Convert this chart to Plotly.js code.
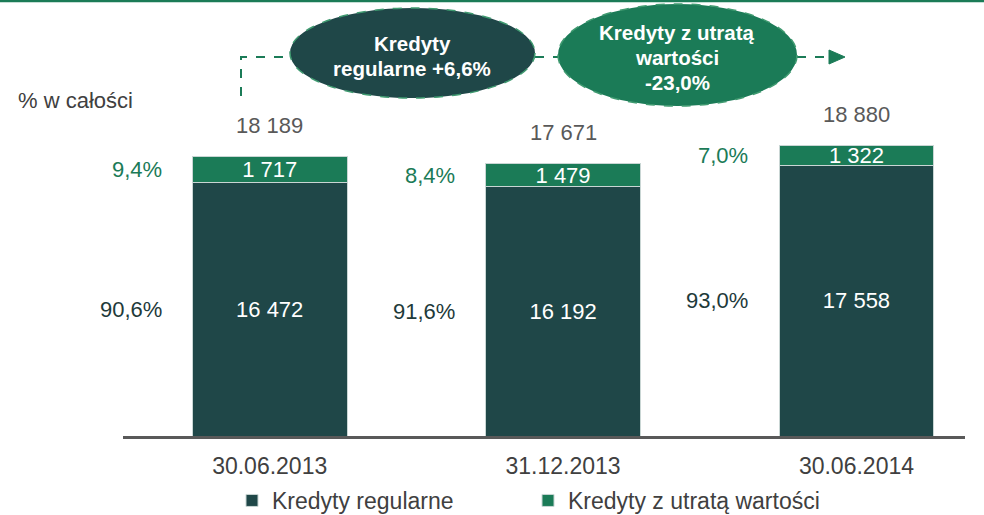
<!DOCTYPE html>
<html>
<head>
<meta charset="utf-8">
<script src="https://cdn.plot.ly/plotly-3.0.1.min.js"></script>
<style>html,body{margin:0;padding:0;background:#fff;}#chart{width:984px;height:515px;}</style>
</head>
<body>
<div id="chart"></div>
<script>
// ---- data ----
var categories = ['30.06.2013', '31.12.2013', '30.06.2014'];
var regularne = [16472, 16192, 17558];
var utrata = [1717, 1479, 1322];
var seriesNames = ['Kredyty regularne', 'Kredyty z utratą wartości'];
var bubbleRegularLines = ['Kredyty', 'regularne +6,6%'];
var bubbleImpairedLines = ['Kredyty z utratą', 'wartości', '-23,0%'];
var unitLabel = '% w całości';

// ---- derived ----
var totals = regularne.map(function (v, i) { return v + utrata[i]; });
function pct(v, t) { return (v / t * 100).toFixed(1).replace('.', ',') + '%'; }
function fmt(v) { return String(v).replace(/\B(?=(\d{3})+(?!\d))/g, ' '); }

var DARK = '#1f4748', GREEN = '#1b7b57';
var W = 984, H = 515, ML = 123, MR = 19, MT = 40, MB = 79;
var PW = W - ML - MR, PH = H - MT - MB;
function X(px) { return (px - ML) / PW; }
function Y(py) { return (MT + PH - py) / PH; }

var font = 'Liberation Sans, Arial, sans-serif';

var traces = [
  {
    type: 'bar', name: seriesNames[0], x: categories, y: regularne,
    marker: { color: DARK, line: { color: '#c9d6d4', width: 1 } },
    width: 0.528,
    text: regularne.map(fmt), textposition: 'inside', insidetextanchor: 'middle',
    constraintext: 'none',
    textfont: { family: font, size: 22, color: '#ffffff' },
    hoverinfo: 'skip'
  },
  {
    type: 'bar', name: seriesNames[1], x: categories, y: utrata,
    marker: { color: GREEN, line: { color: '#c9d6d4', width: 1 } },
    width: 0.528,
    text: utrata.map(fmt), textposition: 'inside', insidetextanchor: 'middle',
    constraintext: 'none',
    textfont: { family: font, size: 22, color: '#ffffff' },
    hoverinfo: 'skip'
  }
];

var annotations = [];
categories.forEach(function (c, i) {
  annotations.push({
    x: c, y: totals[i], xref: 'x', yref: 'y', text: fmt(totals[i]),
    showarrow: false, yanchor: 'middle', yshift: 31,
    font: { family: font, size: 22, color: '#595959' }
  });
  annotations.push({
    x: c, y: regularne[i] + utrata[i] / 2, xref: 'x', yref: 'y', text: pct(utrata[i], totals[i]),
    showarrow: false, xanchor: 'right', xshift: -106, yanchor: 'middle',
    font: { family: font, size: 22, color: GREEN }
  });
  annotations.push({
    x: c, y: regularne[i] / 2, xref: 'x', yref: 'y', text: pct(regularne[i], totals[i]),
    showarrow: false, xanchor: 'right', xshift: -106, yanchor: 'middle',
    font: { family: font, size: 22, color: '#1e3a3a' }
  });
});
annotations.push({
  x: X(16), y: Y(100), xref: 'paper', yref: 'paper', xanchor: 'left', yanchor: 'middle',
  text: unitLabel, showarrow: false, font: { family: font, size: 22, color: '#404040' }
});
var regY = [43, 68];
bubbleRegularLines.forEach(function (t, k) {
  annotations.push({
    x: X(412), y: Y(regY[k]), xref: 'paper', yref: 'paper', xanchor: 'center', yanchor: 'middle',
    text: '<b>' + t + '</b>', showarrow: false,
    font: { family: font, size: 20.5, color: '#ffffff' }
  });
});
var impY = [33, 57, 82];
bubbleImpairedLines.forEach(function (t, k) {
  annotations.push({
    x: X(677), y: Y(impY[k]), xref: 'paper', yref: 'paper', xanchor: 'center', yanchor: 'middle',
    text: '<b>' + t + '</b>', showarrow: false,
    font: { family: font, size: 20.5, color: '#ffffff' }
  });
});

var dashLine = { color: GREEN, width: 2, dash: 'dash' };
var shapes = [
  // top rule
  { type: 'line', xref: 'paper', yref: 'paper', x0: X(0), x1: X(984), y0: Y(1), y1: Y(1), line: { color: GREEN, width: 2.5 } },
  // dashed connector
  { type: 'path', xref: 'paper', yref: 'paper',
    path: 'M' + X(241) + ',' + Y(96) + ' L' + X(241) + ',' + Y(57) + ' L' + X(292) + ',' + Y(57),
    line: dashLine },
  { type: 'line', xref: 'paper', yref: 'paper', x0: X(535), x1: X(558), y0: Y(57), y1: Y(57), line: dashLine },
  { type: 'line', xref: 'paper', yref: 'paper', x0: X(797), x1: X(828), y0: Y(57), y1: Y(57), line: dashLine },
  { type: 'path', xref: 'paper', yref: 'paper',
    path: 'M' + X(829) + ',' + Y(50) + ' L' + X(845) + ',' + Y(57) + ' L' + X(829) + ',' + Y(64) + ' Z',
    fillcolor: GREEN, line: { color: GREEN, width: 1 } },
  // ellipses
  { type: 'circle', xref: 'paper', yref: 'paper', x0: X(290), x1: X(535), y0: Y(8), y1: Y(98),
    fillcolor: DARK, line: { color: '#3f9a70', width: 1.5, dash: 'dash' } },
  { type: 'circle', xref: 'paper', yref: 'paper', x0: X(558), x1: X(797), y0: Y(4), y1: Y(106),
    fillcolor: GREEN, line: { color: '#3f9a70', width: 1.5, dash: 'dash' } }
];

var layout = {
  width: W, height: H,
  margin: { l: ML, r: MR, t: MT, b: MB, autoexpand: false },
  paper_bgcolor: '#ffffff', plot_bgcolor: '#ffffff',
  barmode: 'stack',
  separators: ', ',
  showlegend: true,
  legend: {
    orientation: 'h', x: X(232), xanchor: 'left', y: Y(479), yanchor: 'top',
    entrywidth: 251, entrywidthmode: 'pixels',
    font: { family: font, size: 23, color: '#404040' },
    traceorder: 'normal', bgcolor: 'rgba(0,0,0,0)'
  },
  xaxis: {
    type: 'category', range: [-0.5, 2.37],
    showline: true, linecolor: '#595959', linewidth: 2.5,
    ticks: '', showgrid: false, zeroline: false,
    tickfont: { family: font, size: 23, color: '#404040' },
    ticklabelstandoff: 8, fixedrange: true
  },
  yaxis: {
    range: [0, 25724], visible: false, showgrid: false, zeroline: false, fixedrange: true
  },
  annotations: annotations,
  shapes: shapes,
  font: { family: font }
};

Plotly.newPlot('chart', traces, layout, { staticPlot: true, displayModeBar: false });
</script>
</body>
</html>
